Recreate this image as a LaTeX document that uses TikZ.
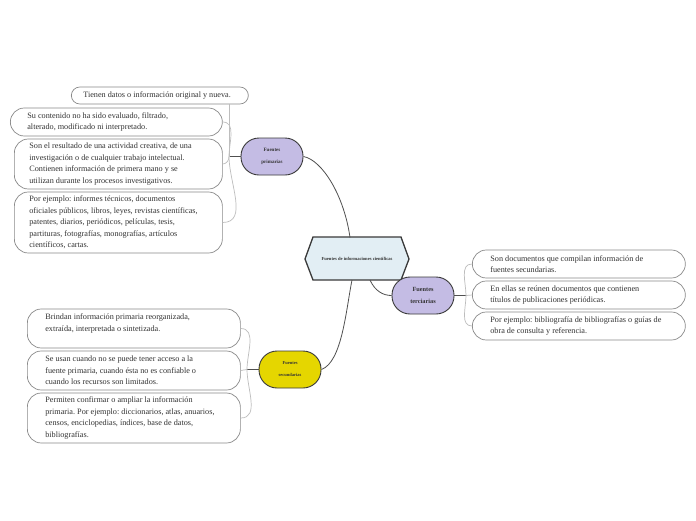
\documentclass[tikz,border=0pt]{standalone}
\usepackage{fontspec}
\setmainfont{Liberation Serif}
\frenchspacing
\definecolor{leafgray}{HTML}{8A8A8A}
\definecolor{textgray}{HTML}{333333}
\definecolor{hubborder}{HTML}{3A3A3A}
\definecolor{linegray}{HTML}{505050}
\definecolor{twiggray}{HTML}{BDBDBD}
\definecolor{lavender}{HTML}{C4BCE4}
\definecolor{hubyellow}{HTML}{E5D600}
\definecolor{hexfill}{HTML}{E2EEF4}
\begin{document}
\begin{tikzpicture}[x=1pt,y=-1pt,
  leaf/.style={draw=leafgray, line width=0.7pt, fill=white, align=flush left,
    font=\fontsize{8.2}{11.6}\selectfont\frenchspacing, inner ysep=0pt, anchor=west, text=textgray},
  hub/.style={draw=hubborder, line width=0.9pt, rounded corners=18pt,
    minimum width=62pt, minimum height=37pt, align=center, inner sep=0pt, text=textgray},
  mainline/.style={draw=linegray, line width=0.8pt},
  twig/.style={draw=twiggray, line width=0.7pt}]
\useasboundingbox[fill=white] (0,0) rectangle (696,520);

% central hexagon
\draw[draw=hubborder, fill=hexfill, line width=1.3pt]
  (305,259) -- (313,237) -- (401,237) -- (409,259) -- (401,280) -- (313,280) -- cycle;
\node[font=\fontsize{4.6}{5}\selectfont\bfseries, text=textgray] (c) at (357,259) {Fuentes de informaciones científicas};
\coordinate (ctop) at (350,237.5);
\coordinate (cbotA) at (352,280);
\coordinate (cbotB) at (370,280);

% hubs
\node[hub, fill=lavender, font=\fontsize{5}{12}\selectfont\bfseries] (pp) at (272,156.5) {Fuentes\\primarias};
\node[hub, fill=lavender, font=\fontsize{6.3}{12.5}\selectfont\bfseries] (tc) at (423,295.5) {Fuentes\\terciarias};
\node[hub, fill=hubyellow, font=\fontsize{4.5}{12}\selectfont\bfseries] (sc) at (290,369.5) {Fuentes\\secundarias};

% main connectors
\draw[mainline] (pp.east) .. controls (322,160) and (344,195) .. (ctop);
\draw[mainline] (sc.east) .. controls (342,362) and (346,310) .. (cbotA);
\draw[mainline] (cbotB) .. controls (375,291) and (383,295.5) .. (tc.west);

% primarias leaves
\node[leaf, minimum width=177pt, minimum height=17pt, text width=161pt, inner xsep=8pt, rounded corners=8.5pt] (p1) at (71,95.5)
  {\hspace*{4pt}Tienen datos o información original y nueva.};
\node[leaf, minimum width=212pt, minimum height=28pt, text width=184pt, inner xsep=14pt, rounded corners=14pt] (p2) at (10,122)
  {\hspace*{3pt}Su contenido no ha sido evaluado, filtrado,\\\hspace*{3pt}alterado, modificado ni interpretado.};
\node[leaf, minimum width=208pt, minimum height=50pt, text width=180pt, inner xsep=14pt, rounded corners=14pt] (p3) at (14,164)
  {\hspace*{1pt}Son el resultado de una actividad creativa, de una\\\hspace*{1pt}investigación o de cualquier trabajo intelectual.\\\hspace*{1pt}Contienen información de primera mano y se\\\hspace*{1pt}utilizan durante los procesos investigativos.};
\node[leaf, minimum width=208pt, minimum height=61pt, text width=180pt, inner xsep=14pt, rounded corners=14pt] (p4) at (14,222.5)
  {\hspace*{1pt}Por ejemplo: informes técnicos, documentos\\\hspace*{1pt}oficiales públicos, libros, leyes, revistas científicas,\\\hspace*{1pt}patentes, diarios, periódicos, películas, tesis,\\\hspace*{1pt}partituras, fotografías, monografías, artículos\\\hspace*{1pt}científicos, cartas.};

\coordinate (pst) at (229,156.5);
\draw[mainline] (pp.west) -- (pst);
\draw[twig] (pst) -- (pst |- p1.south);
\draw[twig] (pst) to[out=90,in=0] (p2.east);
\draw[twig] (pst) to[out=-90,in=0] (p3.east);
\draw[twig] (pst) to[out=-90,in=0] (p4.east);

% secundarias leaves
\node[leaf, minimum width=213pt, minimum height=39pt, text width=185pt, inner xsep=14pt, rounded corners=14pt] (s1) at (27,328.5)
  {\hspace*{4pt}Brindan información primaria reorganizada,\\\hspace*{4pt}extraída, interpretada o sintetizada.\\\mbox{}};
\node[leaf, minimum width=213pt, minimum height=39pt, text width=185pt, inner xsep=14pt, rounded corners=14pt] (s2) at (27,370.5)
  {\hspace*{4pt}Se usan cuando no se puede tener acceso a la\\\hspace*{4pt}fuente primaria, cuando ésta no es confiable o\\\hspace*{4pt}cuando los recursos son limitados.};
\node[leaf, minimum width=213pt, minimum height=50pt, text width=185pt, inner xsep=14pt, rounded corners=14pt] (s3) at (27,418)
  {\hspace*{4pt}Permiten confirmar o ampliar la información\\\hspace*{4pt}primaria. Por ejemplo: diccionarios, atlas, anuarios,\\\hspace*{4pt}censos, enciclopedias, índices, base de datos,\\\hspace*{4pt}bibliografías.};

\coordinate (sst) at (247,369.5);
\draw[mainline] (sc.west) -- (sst);
\draw[twig] (sst) to[out=90,in=0] (s1.east);
\draw[twig] (sst) -- (s2.east);
\draw[twig] (sst) to[out=-90,in=0] (s3.east);

% terciarias leaves
\node[leaf, minimum width=213pt, minimum height=28pt, text width=185pt, inner xsep=14pt, rounded corners=14pt] (t1) at (472,264)
  {\hspace*{4pt}Son documentos que compilan información de\\\hspace*{4pt}fuentes secundarias.};
\node[leaf, minimum width=213pt, minimum height=28pt, text width=185pt, inner xsep=14pt, rounded corners=14pt] (t2) at (472,295)
  {\hspace*{4pt}En ellas se reúnen documentos que contienen\\\hspace*{4pt}títulos de publicaciones periódicas.};
\node[leaf, minimum width=213pt, minimum height=28pt, text width=185pt, inner xsep=14pt, rounded corners=14pt] (t3) at (472,326)
  {\hspace*{4pt}Por ejemplo: bibliografía de bibliografías o guías de\\\hspace*{4pt}obra de consulta y referencia.};

\coordinate (tst) at (466,295.5);
\draw[mainline] (tc.east) -- (tst);
\draw[twig] (tst) to[out=90,in=180] (t1.west);
\draw[twig] (tst) -- (t2.west);
\draw[twig] (tst) to[out=-90,in=180] (t3.west);
\end{tikzpicture}
\end{document}
